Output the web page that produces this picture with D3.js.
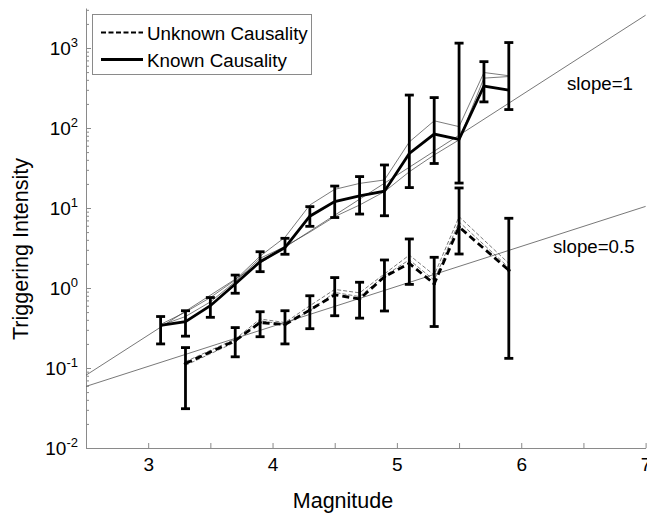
<!DOCTYPE html>
<html>
<head>
<meta charset="utf-8">
<script src="https://cdn.jsdelivr.net/npm/d3@7"></script>
<style>
  body { margin: 0; background: #fff; }
  svg text { font-family: "Liberation Sans", Arial, sans-serif; fill: #000; }
</style>
</head>
<body>
<svg id="chart"></svg>
<script>
const width = 647, height = 513;

// magnitude bins
const knownMag   = [3.1, 3.3, 3.5, 3.7, 3.9, 4.1, 4.3, 4.5, 4.7, 4.9, 5.1, 5.3, 5.5, 5.7, 5.9];
const knownVal   = [0.34, 0.38, 0.6, 1.12, 2.13, 3.2, 7.9, 12, 14.2, 16.2, 48, 84, 72, 335, 298];
const knownLo    = [0.2, 0.25, 0.43, 0.86, 1.6, 2.64, 5.9, 7.6, 8.4, 8.0, 18, 36, 20.5, 212, 170];
const knownHi    = [0.44, 0.52, 0.76, 1.45, 2.84, 4.18, 10.4, 18.8, 24.7, 34.5, 258, 240, 1150, 675, 1170];
const knownUpper = [0.35, 0.5, 0.76, 1.26, 2.5, 4.3, 10.9, 17.1, 20.3, 22.4, 67, 123, 104, 494, 450];
const knownLower = [0.34, 0.44, 0.67, 1.2, 2.35, 3.3, 5.0, 7.8, 10.9, 16, 28.4, 46, 71, 420, 440];

const unknownMag   = [3.3, 3.7, 3.9, 4.1, 4.3, 4.5, 4.7, 4.9, 5.1, 5.3, 5.5, 5.9];
const unknownVal   = [0.114, 0.22, 0.37, 0.35, 0.53, 0.82, 0.73, 1.38, 2.03, 1.13, 5.8, 1.67];
const unknownLo    = [0.031, 0.138, 0.246, 0.2, 0.31, 0.45, 0.42, 0.516, 1.11, 0.33, 2.66, 0.132];
const unknownHi    = [0.18, 0.32, 0.505, 0.52, 0.8, 1.35, 1.18, 2.24, 4.1, 2.42, 17.8, 7.44];
const unknownUpper = [0.12, 0.23, 0.41, 0.37, 0.6, 0.96, 0.87, 1.5, 2.58, 1.45, 7.8, 2.03];
const unknownLower = [0.108, 0.21, 0.39, 0.35, 0.52, 0.88, 0.78, 1.42, 2.25, 1.25, 6.7, 1.8];

// reference lines: log10(y) = slope * M + intercept
const refSlopes     = [1, 0.5];
const refIntercepts = [-3.59, -2.48];
const refLabels     = ["slope=1", "slope=0.5"];

const xTicks = [3, 3.5, 4, 4.5, 5, 5.5, 6, 6.5, 7];
const yTicks = [1e-2, 1e-1, 1e0, 1e1, 1e2, 1e3];

const svg = d3.select("#chart").attr("width", width).attr("height", height);

const x = d3.scaleLinear().domain([2.5, 7]).range([86, 645.6]);
const y = d3.scaleLog().domain([1e-2, Math.pow(10, 3.5)]).range([448, 8]);

svg.append("defs").append("clipPath").attr("id", "plot")
  .append("rect").attr("x", 86).attr("y", 8).attr("width", 561).attr("height", 440);

// axes
const xAxis = svg.append("g").attr("transform", "translate(0,448)")
  .call(d3.axisBottom(x).tickValues(xTicks).tickSizeInner(-5).tickSizeOuter(0).tickPadding(10)
    .tickFormat(d => Number.isInteger(d) ? d : ""));
xAxis.selectAll("text").attr("font-size", 19);

const minor = y.ticks().filter(v => yTicks.indexOf(v) < 0);
svg.append("g").attr("transform", "translate(86,0)")
  .call(d3.axisLeft(y).tickValues(minor).tickSizeInner(-3).tickSizeOuter(0).tickFormat(""))
  .select(".domain").remove();
const yAxis = svg.append("g").attr("transform", "translate(86,0)")
  .call(d3.axisLeft(y).tickValues(yTicks).tickSizeInner(-5).tickSizeOuter(0).tickPadding(8).tickFormat(""));
yAxis.selectAll(".tick text").each(function(d) {
  const t = d3.select(this).attr("font-size", 19).attr("dy", "0.36em");
  t.append("tspan").text("10");
  t.append("tspan").attr("font-size", 13).attr("dy", -8).text(Math.round(Math.log10(d)));
});
svg.selectAll(".domain, .tick line").attr("stroke", "#8a8a8a");

svg.append("text").attr("x", 343).attr("y", 508).attr("text-anchor", "middle")
  .attr("font-size", 21.5).text("Magnitude");
svg.append("text").attr("transform", "translate(28,249) rotate(-90)").attr("text-anchor", "middle")
  .attr("font-size", 21.5).text("Triggering Intensity");

const plot = svg.append("g").attr("clip-path", "url(#plot)");

// reference lines
refSlopes.forEach((s, i) => {
  const f = m => Math.pow(10, s * m + refIntercepts[i]);
  plot.append("line")
    .attr("x1", x(2.5)).attr("y1", y(f(2.5)))
    .attr("x2", x(7)).attr("y2", y(f(7)))
    .attr("stroke", "#555").attr("stroke-width", 0.8);
});
svg.append("text").attr("x", 567).attr("y", 90).attr("font-size", 18.7).text(refLabels[0]);
svg.append("text").attr("x", 553).attr("y", 253).attr("font-size", 18.7).text(refLabels[1]);

const line = (mags) => d3.line().x((d, i) => x(mags[i])).y(d => y(d));

// thin companion lines
[knownUpper, knownLower].forEach(s => {
  plot.append("path").attr("d", line(knownMag)(s))
    .attr("fill", "none").attr("stroke", "#444").attr("stroke-width", 0.7);
});
[unknownUpper, unknownLower].forEach(s => {
  plot.append("path").attr("d", line(unknownMag)(s))
    .attr("fill", "none").attr("stroke", "#444").attr("stroke-width", 0.7)
    .attr("stroke-dasharray", "4,2");
});

// error bars
function errorBars(mags, lo, hi) {
  const g = plot.append("g").attr("stroke", "#000").attr("stroke-width", 2.8);
  mags.forEach((m, i) => {
    const cx = x(m);
    g.append("line").attr("x1", cx).attr("x2", cx).attr("y1", y(lo[i])).attr("y2", y(hi[i]));
    [lo[i], hi[i]].forEach(v => {
      g.append("line").attr("x1", cx - 4.5).attr("x2", cx + 4.5).attr("y1", y(v)).attr("y2", y(v));
    });
  });
}
errorBars(knownMag, knownLo, knownHi);
errorBars(unknownMag, unknownLo, unknownHi);

// main lines
plot.append("path").attr("d", line(knownMag)(knownVal))
  .attr("fill", "none").attr("stroke", "#000").attr("stroke-width", 2.8);
plot.append("path").attr("d", line(unknownMag)(unknownVal))
  .attr("fill", "none").attr("stroke", "#000").attr("stroke-width", 2.8)
  .attr("stroke-dasharray", "7,4");
plot.selectAll(".dot").data(unknownVal).join("circle")
  .attr("cx", (d, i) => x(unknownMag[i])).attr("cy", d => y(d)).attr("r", 1.8).attr("fill", "#000");

// legend
const leg = svg.append("g");
leg.append("rect").attr("x", 92.5).attr("y", 14.5).attr("width", 219).attr("height", 60)
  .attr("fill", "#fff").attr("stroke", "#8a8a8a");
leg.append("line").attr("x1", 101).attr("x2", 143).attr("y1", 32.5).attr("y2", 32.5)
  .attr("stroke", "#000").attr("stroke-width", 2).attr("stroke-dasharray", "5,2.5");
leg.append("line").attr("x1", 101).attr("x2", 143).attr("y1", 59.5).attr("y2", 59.5)
  .attr("stroke", "#000").attr("stroke-width", 3);
leg.append("text").attr("x", 147).attr("y", 39.5).attr("font-size", 18.8).text("Unknown Causality");
leg.append("text").attr("x", 147).attr("y", 67).attr("font-size", 18.8).text("Known Causality");
</script>
</body>
</html>
